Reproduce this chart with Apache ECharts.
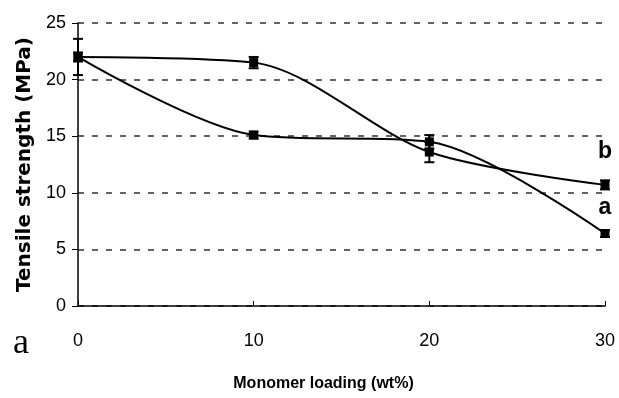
<!DOCTYPE html>
<html><head><meta charset="utf-8">
<script src="https://cdn.jsdelivr.net/npm/echarts@6/dist/echarts.min.js"></script>
<style>html,body{margin:0;padding:0;background:#fff}#c{width:619px;height:398px}</style>
</head><body><div id="c"></div>
<script>
var loading = [0, 10, 20, 30];
var seriesA = [22.0, 15.1, 14.5, 6.4];
var seriesB = [22.0, 21.5, 13.6, 10.7];
var errA = [0.4, 0.3, 0.6, 0.3];
var errB = [1.6, 0.5, 0.9, 0.4];
var yTicks = [0, 5, 10, 15, 20, 25];
var xTicks = [0, 10, 20, 30];

function pairs(xs, ys){ return xs.map(function(x,i){ return [x, ys[i]]; }); }
function errData(xs, ys, es){ return xs.map(function(x,i){ return [x, ys[i]-es[i], ys[i]+es[i]]; }); }

function errRender(params, api){
  var x = api.value(0), lo = api.value(1), hi = api.value(2);
  var p1 = api.coord([x, hi]), p2 = api.coord([x, lo]);
  var w = 5;
  var st = {stroke:'#000', lineWidth:2};
  return {type:'group', children:[
    {type:'line', shape:{x1:p1[0],y1:p1[1],x2:p2[0],y2:p2[1]}, style:st},
    {type:'line', shape:{x1:p1[0]-w,y1:p1[1],x2:p1[0]+w,y2:p1[1]}, style:st},
    {type:'line', shape:{x1:p2[0]-w,y1:p2[1],x2:p2[0]+w,y2:p2[1]}, style:st}
  ]};
}

function lineSeries(name, xs, ys, tag, off){
  var d = pairs(xs, ys).map(function(p,i){
    var item = {value:p};
    if (i === xs.length-1) item.label = {show:true, formatter:tag, position:'top', offset:[0, off],
      fontFamily:'Liberation Sans', fontWeight:'bold', fontSize:23, color:'#000'};
    return item;
  });
  return {type:'line', name:name, data:d, smooth:0.3, symbol:'rect', symbolSize:9,
    lineStyle:{color:'#000', width:2}, itemStyle:{color:'#000'}, label:{show:false}, z:3};
}

var chart = echarts.init(document.getElementById('c'), null, {renderer:'canvas'});
chart.setOption({
  animation:false,
  grid:{left:78, right:14, top:23, bottom:92},
  xAxis:{type:'value', min:0, max:30, interval:10,
    axisLine:{show:true, lineStyle:{color:'#000', width:1.5}},
    axisTick:{show:true, inside:true, length:5, lineStyle:{color:'#000'}},
    axisLabel:{fontFamily:'Liberation Sans', fontSize:18, color:'#000', margin:26,
      formatter:function(v){ return xTicks.indexOf(v) >= 0 ? String(v) : ''; }},
    splitLine:{show:false},
    name:'Monomer loading (wt%)', nameLocation:'middle', nameGap:70,
    nameTextStyle:{fontFamily:'Liberation Sans', fontWeight:'bold', fontSize:16, color:'#000', padding:[0,36,0,0]}
  },
  yAxis:{type:'value', min:0, max:25, interval:5,
    axisLine:{show:true, lineStyle:{color:'#000', width:1.5}},
    axisTick:{show:true, length:6, lineStyle:{color:'#000'}},
    axisLabel:{fontFamily:'Liberation Sans', fontSize:18, color:'#000', margin:12,
      formatter:function(v){ return yTicks.indexOf(v) >= 0 ? String(v) : ''; }},
    splitLine:{show:true, lineStyle:{color:'#333', type:[6,8], width:1.5}},
    name:'Tensile strength (MPa)', nameLocation:'middle', nameGap:43,
    nameTextStyle:{fontFamily:'DejaVu Sans', fontWeight:'bold', fontSize:20, color:'#000'}
  },
  graphic:[{type:'text', left:13, top:326, style:{text:'a', fontFamily:'Liberation Serif', fontSize:36, fill:'#000'}}],
  series:[
    lineSeries('a', loading, seriesA, 'a', -5),
    lineSeries('b', loading, seriesB, 'b', -12),
    {type:'custom', renderItem:errRender, data:errData(loading, seriesA, errA), z:4},
    {type:'custom', renderItem:errRender, data:errData(loading, seriesB, errB), z:4}
  ]
});
</script></body></html>
